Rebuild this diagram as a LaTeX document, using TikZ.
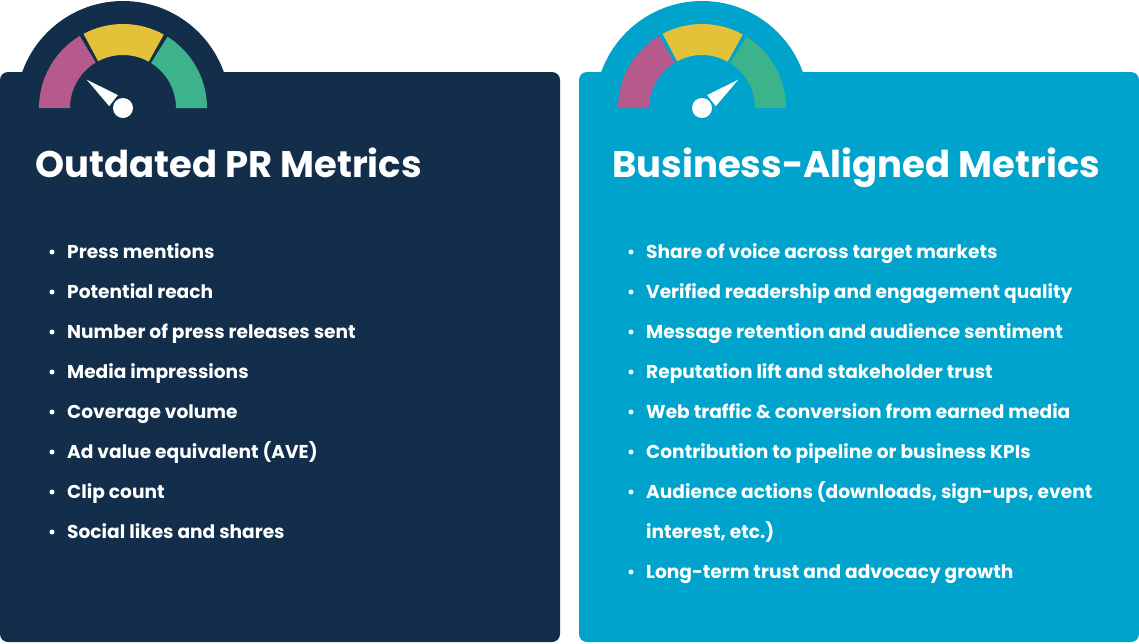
\documentclass[tikz,border=0pt]{standalone}
\usepackage{fontspec}
\setmainfont{Poppins}
\usepackage{tikz}
\usetikzlibrary{calc}
\definecolor{navy}{HTML}{132E4A}
\definecolor{sky}{HTML}{00A3CB}
\definecolor{gpink}{HTML}{B65A8C}
\definecolor{gyellow}{HTML}{E3C23A}
\definecolor{ggreen}{HTML}{3DB38C}
\def\drawseg#1#2#3{\fill[#1] ($(gc)+(#2:84)$) arc (#2:#3:84) -- ($(gc)+(#3:53)$) arc (#3:#2:53) -- cycle;}
\tikzset{
  title/.style={anchor=base west,text=white,font=\bfseries\fontsize{37}{42}\selectfont,inner sep=0pt},
  item/.style={anchor=base west,text=white,font=\bfseries\fontsize{18.6}{22}\selectfont,inner sep=0pt},
  dot/.style={circle,fill=white,inner sep=0pt,minimum size=5pt}
}
\begin{document}
\begin{tikzpicture}[x=1pt,y=-1pt]
\useasboundingbox (0,0) rectangle (1139,643);

% -------- left panel ---------
% y points down, so the gauge angles are negative
\fill[navy,rounded corners=8pt] (0,72) rectangle (560,642);
\coordinate (gc) at (123,108);
\fill[navy] ($(gc)+(-107,0)$) arc (-180:0:107) -- cycle;
\drawseg{gpink}{-180}{-121}
\drawseg{gyellow}{-118}{-61}
\drawseg{ggreen}{-58}{0}
\fill[white] ($(gc)+(-142:46)$) -- ($(gc)+(-142:12)+(-52:7)$) -- ($(gc)+(-142:12)+(128:7)$) -- cycle;
\node[circle,fill=white,inner sep=0pt,minimum size=20pt] (hubl) at (gc) {};
\node[title] (tl) at (35,177) {Outdated PR Metrics};
\foreach \txt [count=\i] in {Press mentions,Potential reach,Number of press releases sent,
  Media impressions,Coverage volume,Ad value equivalent (AVE),Clip count,Social likes and shares}
  {\node[dot] (dl\i) at (52,{252+40*(\i-1)}) {};
   \node[item] (il\i) at (67,{258+40*(\i-1)}) {\txt};}

% -------- right panel ---------
\fill[sky,rounded corners=8pt] (579,72) rectangle (1139,642);
\coordinate (gc) at (702,108);
\fill[sky] ($(gc)+(-107,0)$) arc (-180:0:107) -- cycle;
\drawseg{gpink}{-180}{-121}
\drawseg{gyellow}{-118}{-61}
\drawseg{ggreen}{-58}{0}
\fill[white] ($(gc)+(-38:46)$) -- ($(gc)+(-38:12)+(-128:7)$) -- ($(gc)+(-38:12)+(52:7)$) -- cycle;
\node[circle,fill=white,inner sep=0pt,minimum size=20pt] (hubr) at (gc) {};
\node[title] (tr) at (612,177) {Business-Aligned Metrics};
\foreach \txt [count=\i] in {Share of voice across target markets,
  Verified readership and engagement quality,Message retention and audience sentiment,
  Reputation lift and stakeholder trust,Web traffic \& conversion from earned media,
  Contribution to pipeline or business KPIs,Audience actions (downloads{,} sign-ups{,} event}
  {\node[dot] (dr\i) at (631,{252+40*(\i-1)}) {};
   \node[item] (ir\i) at (646,{258+40*(\i-1)}) {\txt};}
\node[item] (ir7b) at (646,538) {interest, etc.)};
\node[dot] (dr8) at (631,572) {};
\node[item] (ir8) at (646,578) {Long-term trust and advocacy growth};
\end{tikzpicture}
\end{document}
